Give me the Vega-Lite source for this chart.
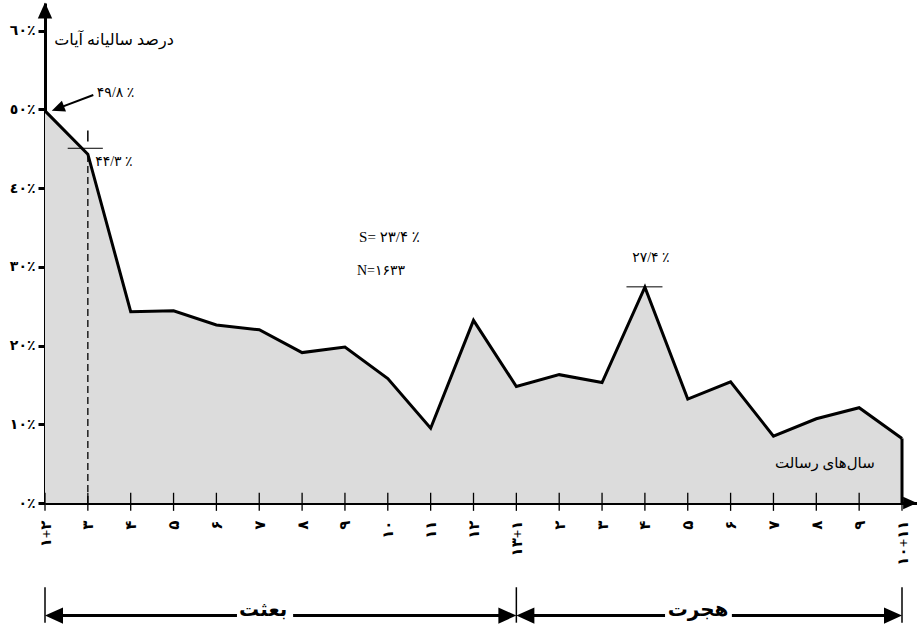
{
  "$schema": "https://vega.github.io/schema/vega-lite/v6.json",
  "width": 872,
  "height": 500,
  "autosize": {"type": "none"},
  "padding": {"left": 45, "top": 3, "right": 0, "bottom": 122},
  "background": "white",
  "config": {
    "view": {"stroke": null},
    "font": "Liberation Serif, DejaVu Sans",
    "axis": {"grid": false}
  },
  "datasets": {
    "main": [
      {"i": 0, "p": 49.8}, {"i": 1, "p": 44.3}, {"i": 2, "p": 24.3}, {"i": 3, "p": 24.4},
      {"i": 4, "p": 22.6}, {"i": 5, "p": 22.0}, {"i": 6, "p": 19.1}, {"i": 7, "p": 19.8},
      {"i": 8, "p": 15.8}, {"i": 9, "p": 9.5}, {"i": 10, "p": 23.2}, {"i": 11, "p": 14.8},
      {"i": 12, "p": 16.3}, {"i": 13, "p": 15.3}, {"i": 14, "p": 27.4}, {"i": 15, "p": 13.2},
      {"i": 16, "p": 15.4}, {"i": 17, "p": 8.5}, {"i": 18, "p": 10.7}, {"i": 19, "p": 12.1},
      {"i": 20, "p": 8.2}
    ],
    "segs": [
      {"kind": "cross", "x": 0.53, "x2": 1.35, "y": 45.05, "y2": 45.05, "w": 1},
      {"kind": "vtick", "x": 1, "x2": 1, "y": 45.9, "y2": 47.3, "w": 1.5},
      {"kind": "peak", "x": 13.57, "x2": 14.41, "y": 27.45, "y2": 27.45, "w": 1},
      {"kind": "right", "x": 20, "x2": 20, "y": 0, "y2": 8.2, "w": 3},
      {"kind": "arrowline", "x": 1.127, "x2": 0.3, "y": 51.82, "y2": 50.11, "w": 2},
      {"kind": "b1", "x": 0, "x2": 0, "y": -10.7, "y2": -15.2, "w": 1.5},
      {"kind": "b2", "x": 11, "x2": 11, "y": -10.7, "y2": -15.2, "w": 1.5},
      {"kind": "b3", "x": 20, "x2": 20, "y": -10.7, "y2": -15.2, "w": 1.5},
      {"kind": "h1", "x": 0.1, "x2": 4.48, "y": -14.3, "y2": -14.3, "w": 3},
      {"kind": "h2", "x": 5.79, "x2": 10.9, "y": -14.3, "y2": -14.3, "w": 3},
      {"kind": "h3", "x": 11.1, "x2": 14.47, "y": -14.3, "y2": -14.3, "w": 3},
      {"kind": "h4", "x": 16.03, "x2": 19.9, "y": -14.3, "y2": -14.3, "w": 3}
    ],
    "dashed": [
      {"x": 1, "y": 0, "y2": 44.3}
    ],
    "heads": [
      {"x": 0.0, "y": 62.55, "a": 0, "s": 256},
      {"x": 20.19, "y": 0, "a": 90, "s": 196},
      {"x": 0.3, "y": 50.11, "a": 249.3, "s": 169},
      {"x": 0.21, "y": -14.3, "a": 270, "s": 324},
      {"x": 10.79, "y": -14.3, "a": 90, "s": 324},
      {"x": 11.21, "y": -14.3, "a": 270, "s": 324},
      {"x": 19.79, "y": -14.3, "a": 90, "s": 324}
    ],
    "leftTexts": [
      {"t": "\u200e۴۹/۸ ٪", "x": 1.21, "y": 52.07, "fs": 14},
      {"t": "\u200e۴۴/۳ ٪", "x": 1.17, "y": 43.35, "fs": 14},
      {"t": "S= ۲۳/۴ ٪", "x": 7.33, "y": 33.78, "fs": 15},
      {"t": "N=۱۶۳۳", "x": 7.28, "y": 29.46, "fs": 14}
    ],
    "centerTexts": [
      {"t": "درصد سالیانه آیات", "x": 1.61, "y": 58.8, "fs": 16},
      {"t": "\u200e۲۷/۴ ٪", "x": 14.14, "y": 31.1, "fs": 14},
      {"t": "سال‌های رسالت", "x": 18.2, "y": 5.08, "fs": 15}
    ],
    "boldTexts": [
      {"t": "بعثت", "x": 5.09, "y": -13.6, "fs": 20},
      {"t": "هجرت", "x": 15.24, "y": -13.6, "fs": 20}
    ]
  },
  "layer": [
    {
      "data": {"name": "main"},
      "mark": {"type": "area", "fill": "#dcdcdc"},
      "encoding": {
        "x": {
          "field": "i", "type": "quantitative", "title": null,
          "scale": {"domain": [0, 20.35], "nice": false, "zero": false},
          "axis": {
            "values": [0,1,2,3,4,5,6,7,8,9,10,11,12,13,14,15,16,17,18,19,20],
            "labelExpr": "['۱+۲','۳','۴','۵','۶','۷','۸','۹','۱۰','۱۱','۱۲','۱۳+۱','۲','۳','۴','۵','۶','۷','۸','۹','۱۰+۱۱'][datum.value]",
            "labelAngle": -90,
            "ticks": false,
            "labelPadding": 17,
            "labelFontSize": 15,
            "labelFontWeight": "bold",
            "labelColor": "black",
            "labelOverlap": false,
            "labelFlush": false,
            "labelBound": false,
            "domainColor": "black",
            "domainWidth": 3
          }
        },
        "y": {
          "field": "p", "type": "quantitative", "title": null,
          "scale": {"domain": [0, 63.5], "nice": false, "zero": false},
          "axis": {
            "values": [0, 10, 20, 30, 40, 50, 60],
            "labelExpr": "['٠٪','١٠٪','٢٠٪','٣٠٪','٤٠٪','٥٠٪','٦٠٪'][round(datum.value/10)]",
            "labelFontSize": 14,
            "labelFontWeight": "bold",
            "labelColor": "black",
            "labelPadding": 3,
            "tickSize": 7,
            "tickWidth": 3,
            "tickColor": "black",
            "domainColor": "black",
            "domainWidth": 3,
            "labelFlush": false,
            "labelOverlap": false
          }
        }
      }
    },
    {
      "data": {"name": "main"},
      "mark": {"type": "rule", "stroke": "black", "strokeWidth": 1.3},
      "encoding": {
        "x": {"field": "i", "type": "quantitative", "title": null},
        "y": {"datum": -1.0, "type": "quantitative"},
        "y2": {"datum": 1.3}
      }
    },
    {
      "data": {"name": "dashed"},
      "mark": {"type": "rule", "stroke": "black", "strokeWidth": 1.3, "strokeDash": [7, 4]},
      "encoding": {
        "x": {"field": "x", "type": "quantitative", "title": null},
        "y": {"field": "y", "type": "quantitative", "title": null},
        "y2": {"field": "y2"}
      }
    },
    {
      "data": {"name": "main"},
      "mark": {"type": "line", "stroke": "black", "strokeWidth": 3, "strokeJoin": "miter"},
      "encoding": {
        "x": {"field": "i", "type": "quantitative", "title": null},
        "y": {"field": "p", "type": "quantitative", "title": null}
      }
    },
    {
      "data": {"name": "segs"},
      "mark": {"type": "rule", "stroke": "black"},
      "encoding": {
        "x": {"field": "x", "type": "quantitative", "title": null},
        "x2": {"field": "x2"},
        "y": {"field": "y", "type": "quantitative", "title": null},
        "y2": {"field": "y2"},
        "strokeWidth": {"field": "w", "type": "quantitative", "scale": null, "legend": null}
      }
    },
    {
      "data": {"name": "heads"},
      "mark": {"type": "point", "shape": "M0,-1L-0.9,1L0.9,1Z", "filled": true, "color": "black", "opacity": 1},
      "encoding": {
        "x": {"field": "x", "type": "quantitative", "title": null},
        "y": {"field": "y", "type": "quantitative", "title": null},
        "angle": {"field": "a", "type": "quantitative", "scale": null},
        "size": {"field": "s", "type": "quantitative", "scale": null, "legend": null}
      }
    },
    {
      "data": {"name": "leftTexts"},
      "mark": {"type": "text", "baseline": "middle", "align": "left", "color": "black"},
      "encoding": {
        "x": {"field": "x", "type": "quantitative", "title": null},
        "y": {"field": "y", "type": "quantitative", "title": null},
        "text": {"field": "t", "type": "nominal"},
        "size": {"field": "fs", "type": "quantitative", "scale": null, "legend": null}
      }
    },
    {
      "data": {"name": "centerTexts"},
      "mark": {"type": "text", "baseline": "middle", "align": "center", "color": "black"},
      "encoding": {
        "x": {"field": "x", "type": "quantitative", "title": null},
        "y": {"field": "y", "type": "quantitative", "title": null},
        "text": {"field": "t", "type": "nominal"},
        "size": {"field": "fs", "type": "quantitative", "scale": null, "legend": null}
      }
    },
    {
      "data": {"name": "boldTexts"},
      "mark": {"type": "text", "baseline": "middle", "align": "center", "color": "black", "fontWeight": "bold"},
      "encoding": {
        "x": {"field": "x", "type": "quantitative", "title": null},
        "y": {"field": "y", "type": "quantitative", "title": null},
        "text": {"field": "t", "type": "nominal"},
        "size": {"field": "fs", "type": "quantitative", "scale": null, "legend": null}
      }
    }
  ]
}
